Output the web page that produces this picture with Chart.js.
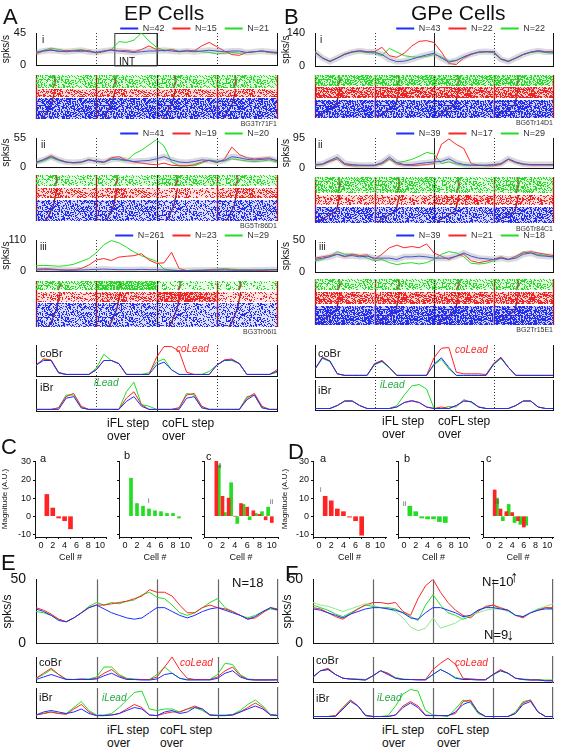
<!DOCTYPE html>
<html>
<head>
<meta charset="utf-8">
<script src="https://cdn.jsdelivr.net/npm/chart.js@4.4.0/dist/chart.umd.min.js"></script>
<style>
  body { margin: 0; background: #fff; }
  #fig { position: relative; width: 563px; height: 750px; overflow: hidden; font-family: "Liberation Sans", Arial, sans-serif; color: #111; }
  .t { position: absolute; white-space: pre; line-height: 1.1; }
</style>
</head>
<body>
<div id="fig"></div>
<script>
'use strict';

// ---- firing rates, 4 step cycles, 8 samples per cycle (33 points) ----
// Panel A, EP cells
const aI_n = ['N=42', 'N=15', 'N=21'];
const aI_blue  = [18,20,21,20,19,20,21,19,18, 20,21,20,19,18,19,20,20, 21,20,19,20,19,20,21,20, 19,20,20,18,19,20,19,18];
const aI_red   = [16,20,22,19,21,20,19,21,17, 19,22,20,21,19,22,27,22, 20,22,19,21,20,27,32,26, 20,15,14,18,19,20,18,17];
const aI_green = [18,21,24,22,20,21,22,20,18, 20,22,33,32,35,45,34,25, 21,22,20,20,21,19,18,16, 17,18,17,18,19,20,18,17];

const aII_n = ['N=41', 'N=19', 'N=20'];
const aII_blue  = [10,14,20,14,10,9,10,14,12, 10,15,16,13,11,12,13,16, 20,14,10,9,11,14,13,10, 13,20,18,15,14,15,16,13];
const aII_red   = [9,15,22,15,10,8,9,14,11, 10,18,20,14,10,8,6,5, 8,4,3,3,5,10,13,9, 15,38,24,18,16,17,18,12];
const aII_green = [8,12,18,13,9,9,10,15,11, 9,16,14,12,25,32,42,52, 40,10,3,3,3,8,14,12, 12,16,14,12,11,12,14,10];

const aIII_n = ['N=261', 'N=23', 'N=29'];
const aIII_blue  = [5,6,6,5,4,4,5,6,7, 8,7,6,6,6,7,6,6, 5,4,3,3,4,4,5,5, 5,4,4,4,5,5,6,6];
const aIII_red   = [8,10,9,6,5,6,10,22,40, 45,38,50,53,55,62,40,28, 30,67,10,3,3,3,4,5, 6,5,4,4,3,3,4,5];
const aIII_green = [20,21,20,18,20,25,35,45,65, 93,108,100,85,68,55,45,35, 8,5,3,3,4,5,6,8, 10,8,6,6,5,5,6,6];

// Panel B, GPe cells
const bI_n = ['N=43', 'N=22', 'N=22'];
const bI_blue  = [60,35,20,35,50,60,65,60,60, 50,30,20,22,30,40,48,55, 35,18,25,40,52,60,62,60, 30,20,35,50,60,65,60,60];
const bI_red   = [62,36,22,35,52,62,66,62,62, 80,45,38,55,85,105,108,100, 60,12,8,35,50,60,62,62, 32,22,35,50,60,66,62,62];
const bI_green = [58,34,22,36,52,60,62,58,55, 45,76,60,45,40,38,42,50, 40,22,25,40,52,58,60,58, 30,22,35,50,58,62,58,55];

const bII_n = ['N=39', 'N=17', 'N=29'];
const bII_blue  = [12,14,25,35,15,12,10,10,10, 18,35,18,12,12,15,18,20, 22,30,18,12,10,10,10,12, 15,30,20,14,12,12,12,12];
const bII_red   = [10,12,22,30,12,8,8,8,8, 15,30,14,10,9,10,12,15, 75,92,75,62,15,10,8,8, 12,28,18,12,10,10,10,10];
const bII_green = [10,12,22,30,12,10,10,9,10, 14,28,18,22,28,38,50,45, 15,20,14,10,10,10,10,10, 14,28,18,13,12,12,12,12];

const bIII_n = ['N=39', 'N=21', 'N=18'];
const bIII_blue  = [20,22,24,28,25,26,24,25,22, 22,22,20,24,24,25,24,22, 22,22,25,30,25,22,21,20, 22,20,22,28,30,26,25,24];
const bIII_red   = [22,24,26,28,24,28,26,27,20, 28,38,42,38,40,38,44,30, 25,20,25,28,18,15,17,20, 24,20,25,30,32,30,28,26];
const bIII_green = [18,20,25,32,28,28,26,22,18, 20,15,12,14,15,13,15,20, 28,32,30,24,14,13,14,18, 22,20,24,32,30,28,26,24];

// normalised muscle activity (coBr / iBr)
const aCo_blue  = [0.35,0.5,0.5,0.1,0.05,0.05,0.05,0.05,0.2, 0.5,0.5,0.4,0.05,0.05,0.05,0.05,0.35, 0.45,0.2,0.05,0.05,0.05,0.05,0.05,0.35, 0.5,0.52,0.4,0.05,0.05,0.05,0.05,0.15];
const aCo_red   = [0.35,0.55,0.52,0.12,0.05,0.05,0.05,0.05,0.2, 0.5,0.5,0.4,0.05,0.05,0.05,0.05,0.6, 0.95,0.95,0.8,0.12,0.05,0.05,0.05,0.35, 0.52,0.55,0.4,0.05,0.05,0.05,0.05,0.2];
const aCo_green = [0.35,0.55,0.5,0.1,0.05,0.05,0.05,0.05,0.25, 0.7,0.5,0.4,0.05,0.05,0.05,0.1,0.45, 0.55,0.2,0.05,0.05,0.05,0.05,0.15,0.35, 0.5,0.5,0.4,0.05,0.05,0.05,0.05,0.12];
const aIb_blue  = [0.05,0.05,0.05,0.05,0.4,0.45,0.1,0.05,0.05, 0.05,0.05,0.05,0.3,0.45,0.15,0.05,0.05, 0.05,0.05,0.05,0.4,0.45,0.1,0.05,0.05, 0.05,0.05,0.05,0.35,0.5,0.1,0.05,0.05];
const aIb_red   = [0.05,0.05,0.05,0.1,0.45,0.55,0.15,0.05,0.05, 0.05,0.05,0.05,0.4,0.6,0.2,0.05,0.05, 0.05,0.05,0.1,0.5,0.55,0.15,0.05,0.05, 0.05,0.05,0.05,0.4,0.55,0.15,0.05,0.05];
const aIb_green = [0.05,0.05,0.05,0.1,0.5,0.5,0.1,0.05,0.05, 0.05,0.05,0.05,0.6,0.9,0.2,0.15,0.05, 0.05,0.05,0.1,0.55,0.5,0.1,0.05,0.05, 0.05,0.05,0.05,0.45,0.5,0.1,0.05,0.05];

const bCo_blue  = [0.25,0.6,0.5,0.1,0.05,0.05,0.05,0.05,0.4, 0.5,0.3,0.05,0.05,0.05,0.05,0.05,0.4, 0.6,0.3,0.05,0.05,0.05,0.05,0.05,0.4, 0.6,0.3,0.05,0.05,0.05,0.05,0.05,0.05];
const bCo_red   = [0.25,0.62,0.5,0.1,0.05,0.05,0.05,0.05,0.42, 0.52,0.3,0.05,0.05,0.05,0.05,0.05,0.6, 0.9,0.92,0.15,0.1,0.1,0.1,0.08,0.42, 0.62,0.3,0.05,0.05,0.05,0.05,0.05,0.05];
const bCo_green = [0.25,0.58,0.48,0.1,0.05,0.05,0.05,0.05,0.38, 0.48,0.28,0.05,0.05,0.05,0.05,0.05,0.38, 0.55,0.25,0.05,0.05,0.05,0.05,0.05,0.38, 0.58,0.3,0.05,0.05,0.05,0.05,0.05,0.05];
const bIb_blue  = [0.05,0.05,0.05,0.15,0.3,0.3,0.15,0.05,0.05, 0.05,0.05,0.1,0.25,0.3,0.25,0.1,0.05, 0.05,0.05,0.15,0.3,0.28,0.1,0.05,0.05, 0.05,0.05,0.15,0.3,0.3,0.1,0.05,0.05];
const bIb_red   = [0.05,0.05,0.05,0.15,0.3,0.3,0.15,0.05,0.05, 0.05,0.05,0.1,0.25,0.32,0.25,0.1,0.05, 0.1,0.05,0.15,0.3,0.28,0.1,0.05,0.05, 0.05,0.05,0.15,0.3,0.3,0.1,0.05,0.05];
const bIb_green = [0.05,0.05,0.05,0.15,0.3,0.3,0.15,0.05,0.05, 0.05,0.05,0.15,0.5,0.8,0.85,0.7,0.05, 0.05,0.12,0.1,0.35,0.25,0.1,0.05,0.05, 0.05,0.05,0.15,0.3,0.3,0.1,0.05,0.05];

// Panel E / F population averages
const eM_blue  = [27,25,22,18,17,20,24,28,30, 27,24,22,20,19,20,24,28, 28,25,22,20,22,25,27,28, 26,24,22,19,21,25,28,26];
const eM_red   = [28,26,23,19,17,20,24,28,30, 30,31,32,33,35,37,42,40, 40,37,30,24,24,28,30,28, 27,25,22,19,20,24,28,27];
const eM_green = [25,24,22,19,17,20,24,29,32, 30,32,31,33,34,38,40,36, 35,30,24,22,24,28,32,35, 28,25,22,20,22,25,27,26];
const eCo_blue  = [0.1,0.2,0.3,0.2,0.1,0.1,0.1,0.1,0.12, 0.25,0.35,0.2,0.1,0.1,0.08,0.08,0.12, 0.3,0.35,0.15,0.08,0.08,0.08,0.08,0.15, 0.35,0.45,0.2,0.1,0.08,0.08,0.08,0.08];
const eCo_red   = [0.15,0.35,0.55,0.3,0.1,0.1,0.12,0.1,0.15, 0.35,0.5,0.25,0.12,0.1,0.1,0.1,0.2, 0.6,1.0,0.5,0.15,0.1,0.1,0.1,0.2, 0.45,0.6,0.25,0.1,0.08,0.08,0.08,0.1];
const eCo_green = [0.15,0.3,0.5,0.3,0.12,0.1,0.12,0.12,0.2, 0.6,0.6,0.3,0.15,0.12,0.1,0.1,0.3, 0.6,0.35,0.15,0.1,0.1,0.1,0.1,0.3, 0.75,0.7,0.3,0.12,0.1,0.1,0.1,0.1];
const eIb_blue  = [0.1,0.2,0.25,0.2,0.15,0.2,0.3,0.15,0.08, 0.08,0.1,0.15,0.25,0.35,0.3,0.1,0.08, 0.2,0.25,0.15,0.2,0.35,0.3,0.1,0.08, 0.08,0.1,0.2,0.3,0.4,0.3,0.1,0.08];
const eIb_red   = [0.1,0.15,0.2,0.15,0.12,0.3,0.45,0.2,0.08, 0.08,0.1,0.15,0.3,0.45,0.35,0.1,0.08, 0.15,0.2,0.2,0.3,0.4,0.3,0.1,0.08, 0.08,0.1,0.2,0.35,0.5,0.35,0.1,0.08];
const eIb_green = [0.1,0.15,0.2,0.15,0.15,0.35,0.55,0.25,0.1, 0.1,0.15,0.35,0.6,0.85,0.9,0.3,0.25, 0.3,0.3,0.2,0.3,0.35,0.25,0.1,0.1, 0.1,0.12,0.25,0.45,0.6,0.4,0.12,0.1];

const fM_blue   = [27,26,24,22,20,23,25,27,28, 28,27,26,24,20,19,24,28, 28,26,24,21,22,26,28,28, 27,26,22,21,24,26,27,27];
const fM_red    = [28,27,24,21,19,23,27,30,32, 32,31,32,25,22,35,45,50, 40,32,26,22,20,25,29,30, 28,26,22,20,24,26,28,28];
const fM_green  = [30,28,26,23,21,24,27,30,29, 28,28,27,24,21,18,30,38, 30,24,22,19,21,26,28,30, 27,26,22,21,24,27,28,27];
const fM_lgreen = [32,30,29,27,25,27,29,31,30, 28,27,25,20,13,10,12,20, 12,14,16,20,22,24,26,27, 27,25,22,21,24,27,29,31];
const fCo_blue  = [0.2,0.45,0.5,0.3,0.15,0.12,0.1,0.08,0.25, 0.45,0.3,0.15,0.1,0.1,0.08,0.08,0.3, 0.5,0.35,0.15,0.1,0.1,0.08,0.08,0.3, 0.45,0.35,0.15,0.1,0.08,0.08,0.05,0.05];
const fCo_red   = [0.2,0.45,0.55,0.3,0.15,0.12,0.1,0.08,0.25, 0.45,0.35,0.15,0.1,0.1,0.1,0.1,0.5, 0.75,0.95,0.7,0.15,0.12,0.1,0.1,0.3, 0.5,0.35,0.15,0.1,0.08,0.08,0.05,0.05];
const fCo_green = [0.2,0.45,0.5,0.3,0.15,0.12,0.12,0.1,0.25, 0.45,0.35,0.18,0.12,0.1,0.1,0.1,0.3, 0.5,0.35,0.18,0.12,0.12,0.1,0.1,0.28, 0.45,0.35,0.15,0.12,0.1,0.1,0.08,0.08];
const fIb_blue  = [0.05,0.05,0.05,0.05,0.3,0.55,0.4,0.08,0.05, 0.05,0.05,0.1,0.35,0.5,0.35,0.08,0.08, 0.08,0.08,0.2,0.45,0.55,0.2,0.05,0.05, 0.05,0.05,0.15,0.45,0.55,0.2,0.05,0.05];
const fIb_red   = [0.05,0.05,0.05,0.08,0.35,0.6,0.4,0.08,0.05, 0.05,0.05,0.1,0.4,0.55,0.4,0.1,0.08, 0.08,0.08,0.15,0.55,0.6,0.2,0.05,0.05, 0.05,0.05,0.15,0.5,0.6,0.2,0.05,0.05];
const fIb_green = [0.05,0.05,0.05,0.08,0.35,0.6,0.4,0.1,0.05, 0.05,0.08,0.4,0.8,0.95,0.9,0.25,0.1, 0.08,0.05,0.3,0.6,0.5,0.15,0.05,0.05, 0.05,0.05,0.2,0.55,0.6,0.2,0.05,0.05];

// raster density per band (green, red, blue) and per cycle
const aIr_dens   = [[0.5,0.5,0.5,0.5], [0.55,0.55,0.55,0.55], [0.75,0.75,0.75,0.75]];
const aIIr_dens  = [[0.4,0.4,0.55,0.45], [0.5,0.5,0.35,0.55], [0.6,0.6,0.5,0.6]];
const aIIIr_dens = [[0.55,0.9,0.25,0.25], [0.4,0.6,0.85,0.3], [0.55,0.55,0.45,0.45]];
const bIr_dens   = [[0.7,0.7,0.7,0.7], [0.75,0.8,0.75,0.75], [0.8,0.75,0.75,0.8]];
const bIIr_dens  = [[0.6,0.6,0.45,0.55], [0.45,0.45,0.6,0.5], [0.7,0.65,0.6,0.7]];
const bIIIr_dens = [[0.5,0.5,0.5,0.5], [0.7,0.7,0.7,0.7], [0.85,0.85,0.85,0.85]];
// sorted step-onset curves: [start, end] as fraction of cycle
const aR_onset = [0.1, 0.32];
const bR_onset = [0.05, 0.42];

// Panels C / D: modulation magnitude per cell
const cA_cells = [1,2,3,4,5];
const cA_vals  = [12,4.5,-1,-2.5,-7];
const cB_cells = [1,2,3,4,5,6,7,8,9];
const cB_vals  = [21,7,5.5,4,3,2.5,1.5,1.5,-1];
const cC_cells = [1,2,3,4,5,6,7,8,9,10];
const cC_red   = [31,11,10,0,7,5,3,1,-2,-3.5];
const cC_green = [28,2,18.5,-4,6.5,-2,1.5,2.5,5,0];
const dA_cells = [1,2,3,4,5,6,7];
const dA_vals  = [11,8.5,4,2.5,-0.5,-2.5,-10.5];
const dB_vals  = [5.5,2.5,-1,-1.5,-1.5,-3,-3.5];
const dC_cells = [1,2,3,4,5,6];
const dC_red   = [14.5,4,2.5,2,-2.5,-6];
const dC_green = [10,-2.5,6.5,-3.5,-4.5,-5];
const magTicks = [-10, 0, 10, 20, 30];
const cellTicks = [0, 2, 4, 6, 8, 10];

// ---------------------------------------------------------------
Chart.defaults.font.family = '"Liberation Sans", Arial, sans-serif';
Chart.defaults.color = '#222';
const BLUE = '#1e2eff', RED = '#ff2424', GREEN = '#22dd22', LGREEN = '#8fe88f';
const fig = document.getElementById('fig');

// vertical step-cycle boundaries (and the INT box)
Chart.register({
  id: 'seg',
  beforeDatasetsDraw(chart, args, o) {
    if (!o || !o.lines) return;
    const {ctx, chartArea: a, scales: {x}} = chart;
    ctx.save();
    o.lines.forEach(l => {
      const px = Math.round(x.getPixelForValue(l.at)) + 0.5;
      ctx.strokeStyle = l.color; ctx.lineWidth = l.width || 1;
      ctx.setLineDash(l.dash || []);
      ctx.beginPath(); ctx.moveTo(px, a.top); ctx.lineTo(px, a.bottom); ctx.stroke();
    });
    if (o.box) {
      const x0 = x.getPixelForValue(o.box[0]), x1 = x.getPixelForValue(o.box[1]);
      ctx.setLineDash([]); ctx.strokeStyle = '#333'; ctx.lineWidth = 1;
      ctx.strokeRect(x0 + 0.5, a.top + 0.5, x1 - x0, a.bottom - a.top);
    }
    ctx.restore();
  }
});

const SEG_AB = [{at: 1, dash: [1, 2], color: '#333'}, {at: 2, color: '#222'}, {at: 3, dash: [1, 2], color: '#333'}];
const SEG_EF = [{at: 1, color: '#666', width: 1.2}, {at: 2, color: '#666', width: 1.2}, {at: 3, color: '#666', width: 1.2}];
const SEG_RAS = [0, 1, 2, 3, 4].map(v => ({at: v, color: '#a01810', width: 1.3})).concat([{at: 2, color: '#111'}]);

function mkCanvas(x, y, w, h) {
  const c = document.createElement('canvas');
  c.width = w; c.height = h;
  c.style.cssText = `position:absolute;left:${x}px;top:${y}px;width:${w}px;height:${h}px`;
  fig.appendChild(c);
  return c.getContext('2d');
}

function txt(s, x, y, size, css) {
  const d = document.createElement('div');
  d.className = 't';
  d.textContent = s;
  d.style.left = x + 'px'; d.style.top = y + 'px'; d.style.fontSize = size + 'px';
  if (css) Object.assign(d.style, css);
  fig.appendChild(d);
}

const pts = d => d.map((v, i) => ({x: i * 4 / (d.length - 1), y: v}));

function lineChart(o) {
  const legH = o.names ? 17 : 0;
  const padTop = o.names ? 0 : (o.padTop || 2);
  const xH = o.xH || 2;
  const w = o.right - o.left + 3;
  const ctx = mkCanvas(o.left, o.top - legH - padTop, w, legH + padTop + (o.bottom - o.top) + xH);
  const sets = [];
  if (o.sem) sets.push({label: '', data: pts(o.series[0]), borderColor: 'rgba(150,150,150,0.35)', borderWidth: 6, pointRadius: 0});
  o.series.forEach((s, i) => sets.push({
    label: o.names ? o.names[i] : '', data: pts(s), borderColor: o.colors[i], borderWidth: 1, pointRadius: 0, tension: 0
  }));
  new Chart(ctx, {
    type: 'line',
    data: {datasets: sets},
    options: {
      responsive: false, animation: false, events: [],
      layout: {padding: {top: padTop, right: 3, left: 0, bottom: 0}},
      plugins: {
        tooltip: {enabled: false},
        legend: o.names ? {
          display: true, position: 'top', align: 'end', maxHeight: legH,
          labels: {
            usePointStyle: true, pointStyle: 'line', pointStyleWidth: 18, boxHeight: 9, padding: 8,
            font: {size: 9}, color: '#333',
            generateLabels: ch => Chart.defaults.plugins.legend.labels.generateLabels(ch)
              .filter(l => l.text !== '').map(l => Object.assign(l, {lineWidth: 2}))
          }
        } : {display: false},
        seg: {lines: o.seg, box: o.box}
      },
      scales: {
        x: {type: 'linear', min: 0, max: 4, ticks: {display: false}, grid: {display: false},
            border: {color: '#111'}, afterFit: s => { s.height = xH; }},
        y: {min: 0, max: o.max || 1, grid: {display: false}, border: {color: '#111'},
            ticks: {display: !!o.tick, font: {size: o.tick || 10}, color: '#111', padding: 2},
            afterBuildTicks: s => { s.ticks = [{value: 0}, {value: o.max || 1}]; },
            title: {display: !!o.title, text: o.title, font: {size: o.titleSize || 10}, color: '#111', padding: 0},
            afterFit: s => { s.width = o.plotL - o.left; }},
        y2: {position: 'right', min: 0, max: 1, grid: {display: false}, ticks: {display: false},
             border: {color: o.edge || '#111', width: o.edgeW || 1}, afterFit: s => { s.width = 0; }}
      }
    }
  });
}

// integer hash for a fixed speckle texture (imitates spike rasters; not data)
function hash2(i, j) {
  let h = Math.imul(i + 1, 374761393) ^ Math.imul(j + 7, 668265263);
  h = Math.imul(h ^ (h >>> 13), 1274126177);
  return ((h ^ (h >>> 16)) >>> 0) / 4294967296;
}

function stipple(rgb, dens) {
  const W = 64, H = 32;
  const c = document.createElement('canvas');
  c.width = W; c.height = H;
  const g = c.getContext('2d');
  g.fillStyle = `rgba(${rgb},${(0.06 + 0.2 * dens).toFixed(2)})`;
  g.fillRect(0, 0, W, H);
  g.fillStyle = `rgb(${rgb})`;
  for (let i = 0; i < W; i++) {
    for (let j = 0; j < H; j++) {
      if (hash2(i, j) < dens * 0.75) g.fillRect(i, j, 1, 1);
    }
  }
  return g.createPattern(c, 'repeat');
}

const RAS_RGB = ['40,215,40', '240,35,35', '35,45,240'];

function rasterChart(o) {
  const H = o.bands[2][1];
  const ctx = mkCanvas(o.left, o.top, o.right - o.left + 3, H);
  const sets = [];
  o.bands.forEach((b, bi) => {
    for (let s = 0; s < 4; s++) {
      sets.push({data: [{x: s, y: b[0]}, {x: s + 1, y: b[0]}], fill: {value: b[1]},
                 backgroundColor: stipple(RAS_RGB[bi], o.dens[bi][s]), borderWidth: 0, pointRadius: 0});
    }
  });
  const [g, , bl] = o.bands;
  const on = [], gc = [];
  for (let s = 0; s < 4; s++) {
    const a0 = s + o.onset[0], a1 = s + o.onset[1], hgt = bl[1] - bl[0];
    on.push({x: a0, y: bl[1]}, {x: a0 + 0.05, y: bl[1] - 0.2 * hgt}, {x: a1 - 0.06, y: bl[0] + 0.25 * hgt}, {x: a1, y: o.bands[1][0]}, {x: a1, y: null});
    gc.push({x: a1 - 0.04, y: g[1]}, {x: a1, y: (g[0] + g[1]) / 2}, {x: a1 - 0.02, y: g[0]}, {x: a1, y: null});
  }
  sets.push({data: on, borderColor: '#8f1a12', borderWidth: 1.3, pointRadius: 0, fill: false, spanGaps: false});
  sets.push({data: gc, borderColor: 'rgba(140,25,18,0.8)', borderWidth: 2, pointRadius: 0, fill: false, spanGaps: false});
  new Chart(ctx, {
    type: 'line',
    data: {datasets: sets},
    options: {
      responsive: false, animation: false, events: [],
      layout: {padding: {left: o.plotL - o.left, right: 3, top: 0, bottom: 0}},
      plugins: {legend: {display: false}, tooltip: {enabled: false}, seg: {lines: SEG_RAS}},
      scales: {
        x: {type: 'linear', display: false, min: 0, max: 4},
        y: {display: false, reverse: true, min: 0, max: H}
      }
    }
  });
}

function barChart(o) {
  const padTop = 8, xH = 26;
  const ctx = mkCanvas(o.left, o.top - padTop, o.right - o.left + 8, padTop + (o.bottom - o.top) + xH);
  const sets = o.sets.map(s => ({
    data: s.cells.map((c, i) => ({x: c + (s.off || 0), y: s.vals[i]})),
    backgroundColor: s.color, barThickness: s.thick, grouped: false, borderWidth: 0
  }));
  new Chart(ctx, {
    type: 'bar',
    data: {datasets: sets},
    options: {
      responsive: false, animation: false, events: [],
      layout: {padding: {top: padTop, right: 8, left: 0, bottom: 0}},
      plugins: {legend: {display: false}, tooltip: {enabled: false}},
      scales: {
        x: {type: 'linear', min: 0, max: 10, grid: {drawOnChartArea: false, tickLength: 2, color: '#111'},
            border: {color: '#111'}, ticks: {font: {size: 9}, color: '#111', padding: 1, maxRotation: 0, autoSkip: false},
            afterBuildTicks: s => { s.ticks = cellTicks.map(v => ({value: v})); },
            title: {display: true, text: 'Cell #', font: {size: 9}, color: '#111', padding: 0},
            afterFit: s => { s.height = xH; }},
        y: {type: 'linear', min: -11.5, max: 30.5, grid: {drawOnChartArea: false, tickLength: 2, color: '#111'},
            border: {color: '#111'},
            ticks: {display: !!o.labels, font: {size: 9}, color: '#111', padding: 2, autoSkip: false, callback: v => String(v)},
            afterBuildTicks: s => { s.ticks = magTicks.map(v => ({value: v})); },
            title: {display: !!o.labels, text: 'Magnitude (A.U.)', font: {size: 8}, color: '#111', padding: 0},
            afterFit: s => { s.width = o.plotL - o.left; }}
      }
    }
  });
}

const C3 = [BLUE, RED, GREEN];

// ---------------- Panel A ----------------
lineChart({left: 0, plotL: 36, right: 277, top: 33, bottom: 67, max: 45, tick: 11, title: 'spks/s', xH: 7,
  series: [aI_blue, aI_red, aI_green], colors: C3, names: aI_n, sem: true, seg: SEG_AB, box: [1.3, 2.0]});
rasterChart({left: 0, plotL: 36, right: 277, top: 75, bands: [[0, 13], [14, 22], [23, 44]], dens: aIr_dens, onset: aR_onset});
lineChart({left: 0, plotL: 36, right: 277, top: 138, bottom: 169, max: 55, tick: 11, title: 'spks/s', xH: 7,
  series: [aII_blue, aII_red, aII_green], colors: C3, names: aII_n, sem: true, seg: SEG_AB});
rasterChart({left: 0, plotL: 36, right: 277, top: 175, bands: [[0, 11], [13, 23], [25, 46]], dens: aIIr_dens, onset: [0.15, 0.35]});
lineChart({left: 0, plotL: 36, right: 277, top: 240, bottom: 273, max: 110, tick: 11, title: 'spks/s', xH: 7,
  series: [aIII_blue, aIII_red, aIII_green], colors: C3, names: aIII_n, sem: true, seg: SEG_AB});
rasterChart({left: 0, plotL: 36, right: 277, top: 281, bands: [[0, 9], [11, 21], [22, 46]], dens: aIIIr_dens, onset: [0.2, 0.4]});
lineChart({left: 0, plotL: 36, right: 277, top: 345, bottom: 376, series: [aCo_blue, aCo_red, aCo_green], colors: C3, seg: SEG_AB});
lineChart({left: 0, plotL: 36, right: 277, top: 379, bottom: 411, series: [aIb_blue, aIb_red, aIb_green], colors: C3, seg: SEG_AB});

// ---------------- Panel B ----------------
lineChart({left: 280, plotL: 315, right: 553, top: 33, bottom: 68, max: 140, tick: 11, title: 'spks/s', xH: 7,
  series: [bI_blue, bI_red, bI_green], colors: C3, names: bI_n, sem: true, seg: SEG_AB});
rasterChart({left: 280, plotL: 315, right: 553, top: 75, bands: [[0, 11], [12, 23], [25, 43]], dens: bIr_dens, onset: bR_onset});
lineChart({left: 280, plotL: 315, right: 553, top: 138, bottom: 170, max: 95, tick: 11, title: 'spks/s', xH: 7,
  series: [bII_blue, bII_red, bII_green], colors: C3, names: bII_n, sem: true, seg: SEG_AB});
rasterChart({left: 280, plotL: 315, right: 553, top: 177, bands: [[0, 16], [18, 28], [30, 46]], dens: bIIr_dens, onset: bR_onset});
lineChart({left: 280, plotL: 315, right: 553, top: 240, bottom: 274, max: 50, tick: 11, title: 'spks/s', xH: 7,
  series: [bIII_blue, bIII_red, bIII_green], colors: C3, names: bIII_n, sem: true, seg: SEG_AB});
rasterChart({left: 280, plotL: 315, right: 553, top: 279, bands: [[0, 11], [13, 25], [27, 46]], dens: bIIIr_dens, onset: bR_onset});
lineChart({left: 280, plotL: 315, right: 553, top: 345, bottom: 377, series: [bCo_blue, bCo_red, bCo_green], colors: C3, seg: SEG_AB});
lineChart({left: 280, plotL: 315, right: 553, top: 380, bottom: 410, series: [bIb_blue, bIb_red, bIb_green], colors: C3, seg: SEG_AB});

// ---------------- Panels C / D ----------------
barChart({left: 0, plotL: 35, right: 106, top: 461, bottom: 537, labels: true,
  sets: [{cells: cA_cells, vals: cA_vals, color: RED, thick: 4}]});
barChart({left: 109, plotL: 119, right: 191, top: 461, bottom: 537,
  sets: [{cells: cB_cells, vals: cB_vals, color: GREEN, thick: 3}]});
barChart({left: 194, plotL: 204, right: 278, top: 461, bottom: 537,
  sets: [{cells: cC_cells, vals: cC_red, color: RED, thick: 3}, {cells: cC_cells.slice(0, 9), vals: cC_green, color: GREEN, thick: 3, off: 0.4}]});
barChart({left: 280, plotL: 313, right: 386, top: 461, bottom: 537, labels: true,
  sets: [{cells: dA_cells, vals: dA_vals, color: RED, thick: 4}]});
barChart({left: 388, plotL: 398, right: 469, top: 461, bottom: 537,
  sets: [{cells: dA_cells, vals: dB_vals, color: GREEN, thick: 4}]});
barChart({left: 473, plotL: 483, right: 553, top: 461, bottom: 537,
  sets: [{cells: dC_cells, vals: dC_red, color: RED, thick: 3}, {cells: dC_cells, vals: dC_green, color: GREEN, thick: 3, off: 0.4}]});

// ---------------- Panels E / F ----------------
lineChart({left: 0, plotL: 36, right: 278, top: 577, bottom: 646, max: 50, tick: 14, title: 'spks/s', titleSize: 12, padTop: 8, xH: 8,
  series: [eM_blue, eM_red, eM_green], colors: C3, seg: SEG_EF, edge: '#666', edgeW: 1.2});
lineChart({left: 0, plotL: 36, right: 278, top: 657, bottom: 682, series: [eCo_blue, eCo_red, eCo_green], colors: C3, seg: SEG_EF, edge: '#666', edgeW: 1.2});
lineChart({left: 0, plotL: 36, right: 278, top: 688, bottom: 718, series: [eIb_blue, eIb_red, eIb_green], colors: C3, seg: SEG_EF, edge: '#666', edgeW: 1.2});
lineChart({left: 280, plotL: 313, right: 553, top: 577, bottom: 646, max: 50, tick: 14, title: 'spks/s', titleSize: 12, padTop: 8, xH: 8,
  series: [fM_blue, fM_lgreen, fM_red, fM_green], colors: [BLUE, LGREEN, RED, GREEN], seg: SEG_EF, edge: '#666', edgeW: 1.2});
lineChart({left: 280, plotL: 313, right: 553, top: 657, bottom: 682, series: [fCo_blue, fCo_red, fCo_green], colors: C3, seg: SEG_EF, edge: '#666', edgeW: 1.2});
lineChart({left: 280, plotL: 313, right: 553, top: 688, bottom: 718, series: [fIb_blue, fIb_red, fIb_green], colors: C3, seg: SEG_EF, edge: '#666', edgeW: 1.2});

// ---------------- text ----------------
txt('A', 3, 5, 22); txt('EP Cells', 124, 1, 21);
txt('B', 284, 5, 22); txt('GPe Cells', 411, 1, 21);
txt('C', 1, 435, 22); txt('D', 288, 440, 22);
txt('E', 1, 551, 22); txt('F', 285, 562, 22);

txt('i', 42, 34, 10); txt('ii', 41, 139, 10); txt('iii', 40, 241, 10);
txt('i', 320, 34, 10); txt('ii', 318, 139, 10); txt('iii', 319, 241, 10);
txt('INT', 119, 56, 10);

[['BG3Tr71F1', 277, 120], ['BG5Tr86D1', 277, 222], ['BG3Tr06I1', 277, 328],
 ['BG6Tr14D1', 553, 119], ['BG6Tr84C1', 553, 225], ['BG2Tr15E1', 553, 326]].forEach(([s, r, y]) =>
  txt(s, 0, y, 7, {left: 'auto', right: (563 - r) + 'px', color: '#333'}));

// coBr / iBr captions
[[40, 347, 40, 381, 176, 343, 94, 377], [318, 347, 318, 384, 455, 344, 380, 379],
 [39, 656, 39, 691, 180, 657, 102, 692], [316, 654, 316, 692, 455, 657, 377, 692]].forEach(p => {
  txt('coBr', p[0], p[1], 11); txt('iBr', p[2], p[3], 11);
  txt('coLead', p[4], p[5], 10, {color: RED, fontStyle: 'italic'});
  txt('iLead', p[6], p[7], 10, {color: '#22aa44', fontStyle: 'italic'});
});
[[107, 417, 162], [382, 415, 438], [107, 724, 160], [382, 724, 437]].forEach(p => {
  txt('iFL step\nover', p[0], p[1], 12); txt('coFL step\nover', p[2], p[1], 12);
});

txt('a', 40, 452, 11); txt('b', 124, 449, 11); txt('c', 206, 450, 11);
txt('a', 320, 452, 11); txt('b', 404, 452, 11); txt('c', 486, 452, 11);
txt('i', 148, 497, 7, {color: '#555'}); txt('iii', 217, 462, 7, {color: '#555'}); txt('ii', 270, 498, 7, {color: '#555'});
txt('i', 320, 486, 7, {color: '#555'}); txt('ii', 403, 500, 7, {color: '#555'}); txt('iii', 495, 498, 7, {color: '#555'});

txt('N=18', 232, 576, 13);
txt('N=10', 482, 575, 13); txt('\u2191', 510, 568, 16, {fontWeight: 'bold'});
txt('N=9', 484, 628, 13); txt('\u2193', 506, 626, 16, {fontWeight: 'bold'});
</script>
</body>
</html>
